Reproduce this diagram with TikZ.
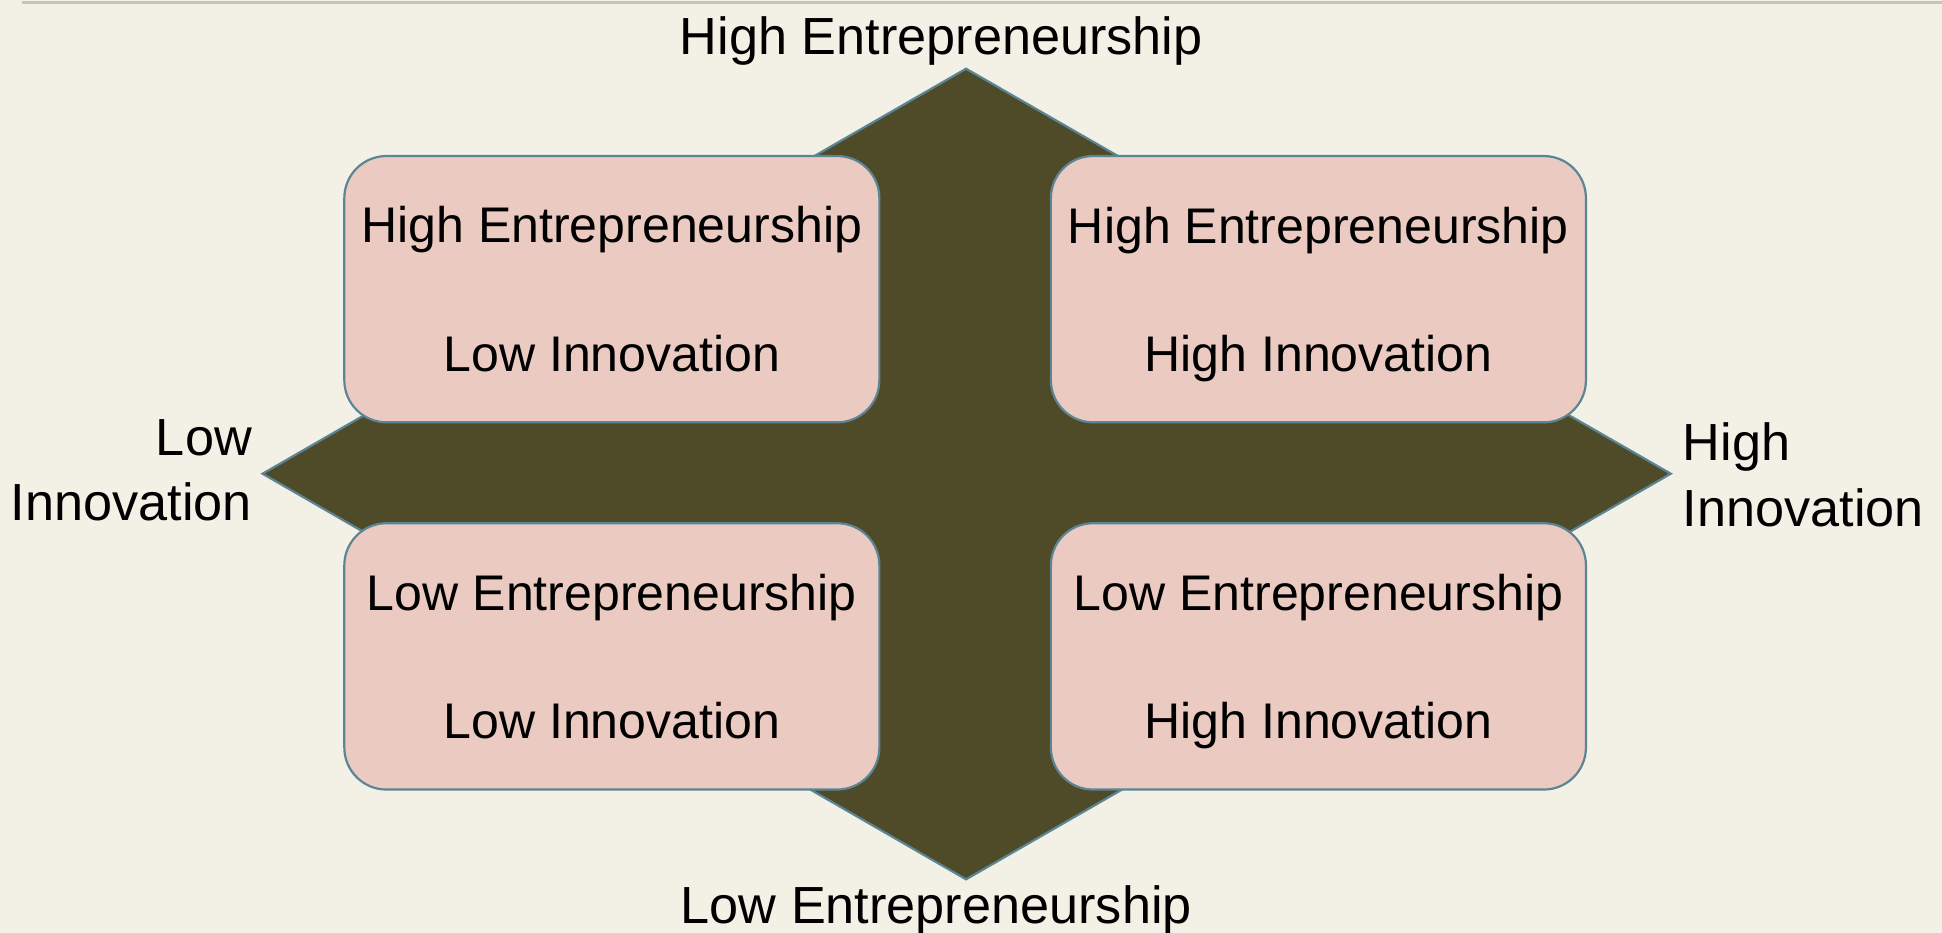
\documentclass[tikz,border=0pt]{standalone}
\usepackage{fontspec}
\setmainfont{Liberation Sans}
\usepackage{tikz}
\usetikzlibrary{positioning}
\definecolor{bgcream}{HTML}{F3F0E6}
\definecolor{darkolive}{HTML}{4F4A27}
\definecolor{boxpink}{HTML}{EBCAC1}
\definecolor{edgeblue}{HTML}{5B8595}
\definecolor{rulegray}{HTML}{C7C5B8}
\tikzset{
    quadrant/.style={
    rectangle,rounded corners=0.34cm,draw=edgeblue,fill=boxpink,line width=0.5pt,
    minimum width=4.32cm,minimum height=2.15cm,align=center,
    font=\fontsize{11.5}{14}\selectfont
    },
    axislabel/.style={
    inner sep=0pt,font=\fontsize{12}{15}\selectfont
    },
    diamond/.style={
    draw=edgeblue,fill=darkolive,line width=0.5pt,line join=miter
    },
}
\begin{document}
\begin{tikzpicture}
   \fill[bgcream] (0,0) rectangle (15.68,7.533);
   \useasboundingbox (0,0) rectangle (15.68,7.533);

   %rule at the top
   \coordinate (r0) at (0.18,7.513);
   \coordinate (r1) at (15.68,7.513);
   \draw[rulegray,line width=0.6pt] (r0) -- (r1);

   %diamond
   \coordinate (dtop) at (7.80,6.978);
   \coordinate (dright) at (13.49,3.708);
   \coordinate (dbottom) at (7.80,0.433);
   \coordinate (dleft) at (2.12,3.708);
   \draw[diamond] (dtop) -- (dright) -- (dbottom) -- (dleft) -- cycle;

   %quadrants
   \node[quadrant] (hl) at (4.94,5.198) {High Entrepreneurship\\[15.5pt]Low Innovation};
   \node[quadrant] (hh) at (10.645,5.198) {High Entrepreneurship\\[15.5pt]\smash{High Innovation}};
   \node[quadrant] (ll) at (4.94,2.233) {Low Entrepreneurship\\[15.5pt]Low Innovation};
   \node[quadrant] (lh) at (10.645,2.233) {Low Entrepreneurship\\[15.5pt]\smash{High Innovation}};

   %axes
   \node[axislabel,anchor=base] (he) at (7.60,7.093) {High Entrepreneurship};
   \node[axislabel,anchor=base] (le) at (7.56,0.078) {Low Entrepreneurship};
   \node[axislabel,anchor=east,align=right] (li) at (2.04,3.736) {Low\\Innovation};
   \node[axislabel,anchor=west,align=left] (hi) at (13.58,3.698) {High\\Innovation};
\end{tikzpicture}
\end{document}
